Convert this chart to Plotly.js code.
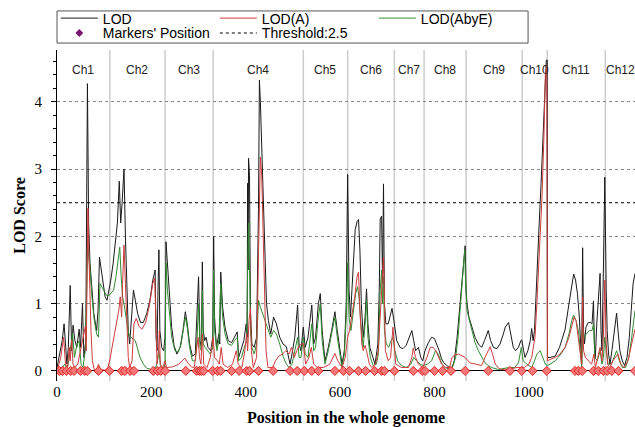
<!DOCTYPE html>
<html><head><meta charset="utf-8">
<script src="https://cdn.plot.ly/plotly-3.0.1.min.js"></script>
<style>html,body{margin:0;padding:0;background:#fff}#chart{width:635px;height:427px}</style>
</head><body><div id="chart"></div>
<script>
// ---- data ----
const lodPos = [0,6,11,15,18,21,24,28,31,34,38,42,47,50,54,57,61,63,64.5,65.5,67,70,74,78,84,87,90,94,98,102,106,110,114,119,124,128,132,135,138,142,145,148,151,154,157,162,166,171,177,183,190,197,203,208,210,212,214,216,218,222,226,229,231,234,238,243,248,254,261,267,272,276,281,287,293,297,300,303,306,308,310,313,316,320,326,330,332,334,338,343,345,347,351,356,363,370,376,382,385,390,396,401,403,404,405,406,408,410,413,418,423,427,429,431,433,436,440,444,448,453,459,465,472,479,486,490,494,498,504,510,513,517,522,526,532,540,544,548,554,558,562,568,575,582,589,594,600,604,609,613,616,619,622,627,632,636,639,642,645,649,653,656,659,663,668,674,680,683,685,688,690,692,694,697,702,707,710,714,720,727,733,740,746,752,756,760,766,771,775,780,787,794,800,805,810,815,820,826,832,837,842,848,852,858,862,865,867,869,873,878,886,893,900,906,911,914,919,925,932,939,946,950,957,962,967,972,978,983,985,989,992,998,1003,1006,1009,1012,1017,1022,1026,1030,1034,1037,1039,1039.5,1045,1056,1065,1072,1077,1084,1091,1095,1099,1103,1107,1110,1112,1114,1116,1118,1121,1126,1131,1134,1137,1139,1141,1144,1148,1151,1153,1155,1158,1161,1164,1166,1169,1172,1176,1180,1183,1186,1189,1193,1198,1203,1208,1213,1217,1221,1225];
const lodVal = [0.05,0.3,0.45,0.7,0.3,0.1,0.35,1.27,0.3,0.68,0.45,0.35,0.62,0.35,1.0,0.2,0.45,2.0,4.27,3.45,2.2,1.6,1.2,0.85,0.6,0.9,1.69,1.5,1.25,1.1,1.05,1.2,1.35,1.6,1.95,2.2,2.82,2.2,2.5,3.0,2.0,1.2,0.6,0.4,0.75,1.2,1.05,0.85,0.72,0.72,0.85,1.05,1.35,1.5,0.5,0.3,1.2,1.8,0.6,0.35,0.3,0.5,1.92,1.6,1.1,0.65,0.38,0.25,0.35,0.6,0.88,0.7,0.4,0.22,0.25,0.8,1.4,0.45,0.35,1.62,0.6,0.45,0.5,0.35,0.3,0.5,2.0,0.8,0.35,0.55,0.4,1.47,0.95,0.65,0.45,0.42,0.5,0.58,0.2,0.3,0.45,0.7,0.5,2.79,1.5,3.16,2.9,0.9,0.4,0.35,0.5,2.4,4.32,4.0,3.5,2.6,1.6,1.0,0.75,0.55,0.8,0.7,0.5,0.4,0.36,0.2,0.1,0.25,0.5,0.98,0.4,0.3,0.65,0.35,0.5,0.98,0.4,0.5,1.0,1.15,0.6,0.15,0.35,0.6,0.88,0.6,0.25,0.1,0.3,1.0,2.92,1.2,0.8,1.5,2.1,2.22,2.25,1.8,1.0,0.5,0.8,1.22,0.7,0.35,0.25,0.1,0.4,1.2,2.26,2.3,1.3,2.78,1.0,0.7,0.7,0.85,0.93,0.75,0.45,0.35,0.33,0.38,0.5,0.6,0.45,0.3,0.35,0.2,0.15,0.3,0.42,0.5,0.48,0.4,0.3,0.18,0.12,0.08,0.05,0.05,0.15,0.5,0.8,1.3,1.65,1.86,1.2,1.0,0.8,0.68,0.5,0.4,0.35,0.45,0.55,0.6,0.45,0.35,0.33,0.4,0.55,0.65,0.72,0.5,0.35,0.3,0.35,0.45,0.46,0.3,0.2,0.3,0.45,0.63,0.45,0.6,1.5,2.2,2.8,3.5,4.3,4.62,4.62,0.2,0.2,0.22,0.35,0.5,0.62,0.95,1.3,1.44,1.35,1.15,0.8,0.3,0.1,1.83,0.6,0.4,0.65,0.72,0.72,0.7,1.04,0.4,0.2,0.7,1.2,1.45,0.6,0.3,1.5,2.88,1.2,0.6,0.25,0.1,0.3,0.55,0.75,0.86,0.6,0.3,0.15,0.08,0.2,0.5,0.9,1.3,1.45];

const aPos = [0,8,14,18,22,26,28,31,34,38,44,50,56,60,62,64,65.5,67,69,72,75,79,84,88,92,102,108,113,118,123,128,131,134,137,139,142,145,148,151,154,159,163,168,174,180,188,196,203,207,209,212,215,217,219,224,229,232,245,258,265,271,277,285,291,296,299,302,305,308,311,318,325,331,334,340,344,348,352,362,372,380,384,392,398,402,404,407,410,412,416,423,427,429,431,434,437,440,443,447,457,463,470,478,485,492,497,503,508,514,522,527,534,539,544,552,565,578,585,589,595,604,611,616,620,625,631,636,639,642,646,649,653,656,662,667,675,681,686,690,692,694,696,702,707,712,715,718,730,745,752,755,760,766,775,784,791,797,803,809,815,824,832,837,844,851,858,865,875,886,900,907,914,918,923,929,936,943,960,975,990,1000,1006,1013,1017,1021,1025,1028,1032,1035,1038,1039.5,1045,1056,1066,1077,1085,1091,1096,1100,1105,1109,1112,1114,1116,1120,1127,1133,1138,1141,1146,1151,1155,1158,1161,1164,1167,1172,1178,1183,1189,1195,1202,1210,1217,1225];
const aVal = [0,0.2,0.5,0.1,0.05,0.35,0.15,0.46,0.1,0.05,0.1,0.3,0.5,0.66,0.3,2.1,2.42,1.9,1.2,0.6,0.15,0.02,0.02,0.1,0.02,0.01,0.05,0.2,0.4,0.6,0.82,0.9,1.1,0.8,1.3,1.87,1.3,0.6,0.2,0.05,0.15,0.7,0.78,0.66,0.62,0.72,0.98,1.3,1.38,0.9,0.1,0.3,0.6,0.1,0.05,0.15,0.05,0.06,0.1,0.15,0.19,0.12,0.06,0.05,0.3,0.5,0.2,0.1,0.55,0.1,0.05,0.2,0.5,0.2,0.15,0.1,0.35,0.1,0.05,0.1,0.3,0.1,0.05,0.3,0.55,0.3,0.75,0.93,0.3,0.05,0.2,1.5,2.5,3.18,2.9,2.0,1.0,0.3,0.05,0.05,0.15,0.22,0.25,0.3,0.25,0.35,0.2,0.3,0.38,0.41,0.1,0.2,0.35,0.1,0.05,0.05,0.1,0.2,0.26,0.15,0.05,0.2,0.5,0.6,0.8,1.1,1.4,1.47,0.9,0.4,0.3,0.38,0.3,0.1,0.05,0.1,0.3,1.0,1.6,1.69,1.0,0.3,0.15,0.2,0.65,0.3,0.1,0.05,0.05,0.2,0.34,0.2,0.1,0.05,0.2,0.35,0.35,0.3,0.2,0.1,0.05,0.05,0.2,0.24,0.25,0.22,0.2,0.12,0.1,0.08,0.2,0.3,0.36,0.25,0.1,0.04,0.02,0.03,0.05,0.05,0.1,0.2,0.5,1.0,1.6,2.2,2.6,3.5,4.4,4.55,0.15,0.17,0.2,0.25,0.35,0.5,0.65,0.8,0.75,0.5,0.25,0.1,1.1,0.3,0.2,0.15,0.1,0.25,0.05,0.2,0.35,0.15,0.5,1.35,0.4,0.1,0.05,0.15,0.2,0.25,0.1,0.05,0.15,0.35,0.62];

const aePos = [0,10,16,22,28,33,37,42,47,51,55,60,63,65,67,70,74,79,84,88,91,95,100,105,110,114,120,125,129,133,136,139,143,147,152,157,161,166,170,176,183,190,200,209,213,216,219,225,229,231,234,238,243,250,257,263,268,272,276,281,287,293,297,300,303,306,308,310,314,319,325,330,332,334,339,343,347,351,356,363,370,376,382,385,391,397,402,404,406,408,410,413,418,423,427,431,436,442,448,453,459,465,472,479,486,492,498,504,510,513,517,522,526,532,540,544,548,554,558,562,568,575,582,589,594,600,604,609,613,616,619,623,628,633,637,640,644,649,653,656,659,664,670,677,681,685,688,690,692,694,698,703,708,712,716,722,730,740,750,756,762,770,776,785,794,802,808,815,822,830,838,845,850,855,860,864,866,869,873,879,886,893,900,907,914,921,936,957,970,978,984,988,996,1006,1012,1017,1024,1030,1035,1039,1045,1056,1068,1077,1085,1091,1095,1100,1105,1109,1112,1114,1117,1122,1128,1134,1137,1140,1145,1151,1155,1158,1161,1164,1168,1175,1181,1186,1192,1198,1205,1212,1218,1225];
const aeVal = [0,0.03,0.1,0.03,0.3,0.56,0.2,0.38,0.45,0.1,0.05,0.3,1.2,1.9,1.7,1.5,1.1,0.75,0.55,0.5,1.3,1.25,1.18,1.12,1.12,1.15,1.2,1.4,1.6,1.84,1.4,1.1,0.95,0.75,0.55,0.5,0.48,0.45,0.35,0.2,0.1,0.04,0.02,0.05,0.15,0.3,0.08,0.03,0.1,1.6,1.2,0.85,0.5,0.3,0.28,0.4,0.6,0.8,0.65,0.35,0.15,0.15,0.5,1.0,0.35,0.3,1.2,0.4,0.35,0.3,0.25,0.35,1.5,0.6,0.3,0.45,1.3,0.8,0.55,0.4,0.38,0.45,0.5,0.15,0.2,0.35,0.45,1.5,2.2,1.6,0.6,0.35,0.25,0.4,1.05,0.95,0.85,0.7,0.6,0.5,0.6,0.55,0.4,0.22,0.1,0.05,0.1,0.3,0.5,0.2,0.2,0.5,0.25,0.2,0.7,0.3,0.35,0.8,1.0,0.45,0.1,0.3,0.55,0.8,0.5,0.2,0.05,0.25,0.8,1.6,0.8,0.6,0.9,1.15,1.25,1.1,0.7,0.35,0.7,1.05,0.5,0.2,0.08,0.1,0.25,1.2,1.5,1.0,1.4,0.6,0.4,0.35,0.45,0.5,0.3,0.15,0.08,0.05,0.1,0.2,0.15,0.1,0.08,0.1,0.15,0.3,0.25,0.12,0.05,0.03,0.05,0.2,0.5,1.0,1.5,1.8,1.3,0.9,0.78,0.6,0.42,0.3,0.2,0.12,0.08,0.05,0.02,0.05,0.05,0.12,0.35,0.15,0.1,0.05,0.15,0.25,0.3,0.2,0.1,0.08,0.1,0.15,0.25,0.35,0.55,0.75,0.83,0.75,0.6,0.3,0.05,0.6,0.5,0.55,0.6,0.6,0.7,0.2,0.15,0.3,0.1,0.2,0.5,0.3,0.1,0.1,0.2,0.3,0.15,0.05,0.05,0.2,0.5,0.9];

const markerPos = [5,12,20,29,36,50,59,64,88,111,137,144,155,163,204,213,220,229,273,296,302,306,311,330,340,347,370,386,402,408,427,458,494,509,524,540,554,589,607,620,639,654,673,688,694,715,755,774,780,800,817,835,865,914,960,985,1008,1038,1098,1105,1113,1137,1147,1158,1166,1176,1190,1225];

const chromNames = ['Ch1','Ch2','Ch3','Ch4','Ch5','Ch6','Ch7','Ch8','Ch9','Ch10','Ch11','Ch12'];
const chromBounds = [0,112,229,331,522,616,715,778,867,986,1039,1162,1225];
const threshold = 2.5;
const xTicks = [0,200,400,600,800,1000,1200];

// ---- styles ----
const sans = '"Liberation Sans", Arial, sans-serif';
const serif = '"Liberation Serif", "Times New Roman", serif';
const cBlack = '#1a1a1a', cRed = 'rgb(205,60,60)', cGreen = 'rgb(50,140,50)';

const traces = [
  {x: lodPos, y: lodVal, name: 'LOD', type: 'scatter', mode: 'lines',
   line: {color: cBlack, width: 1}, legend: 'legend', legendrank: 1, hoverinfo: 'skip'},
  {x: aePos, y: aeVal, name: 'LOD(AbyE)', type: 'scatter', mode: 'lines',
   line: {color: cGreen, width: 1}, legend: 'legend', legendrank: 3, hoverinfo: 'skip'},
  {x: aPos, y: aVal, name: 'LOD(A)', type: 'scatter', mode: 'lines',
   line: {color: cRed, width: 1}, legend: 'legend', legendrank: 2, hoverinfo: 'skip'},
  {x: markerPos, y: markerPos.map(() => 0), name: "Markers' Position", type: 'scatter', mode: 'markers',
   marker: {symbol: 'diamond', size: 7, color: 'rgb(245,120,120)', line: {color: 'rgb(225,40,40)', width: 1}},
   showlegend: false, hoverinfo: 'skip'},
  {x: [null], y: [null], name: "Markers' Position", type: 'scatter', mode: 'markers',
   marker: {symbol: 'diamond', size: 6, color: 'rgb(120,20,110)'}, legend: 'legend2', legendrank: 1},
  {x: [chromBounds[0], chromBounds[chromBounds.length - 1]], y: [threshold, threshold], name: 'Threshold:' + threshold,
   type: 'scatter', mode: 'lines', line: {color: '#000', width: 1, dash: 'dot'}, legend: 'legend2', legendrank: 2, hoverinfo: 'skip'}
];

const shapes = chromBounds.slice(1, -1).map(b => ({
  type: 'line', xref: 'x', yref: 'paper', x0: b, x1: b, y0: 0, y1: 1,
  line: {color: 'rgb(205,205,205)', width: 1.5}, layer: 'below'
}));
shapes.push({type: 'rect', xref: 'paper', yref: 'paper', x0: 0, x1: 0.815, y0: 1.021, y1: 1.118,
  line: {color: '#555', width: 1}, fillcolor: 'rgba(0,0,0,0)'});

const annotations = chromNames.map((n, i) => ({
  x: (chromBounds[i] + chromBounds[i + 1]) / 2, xref: 'x', y: 0.968, yref: 'paper',
  text: n, showarrow: false, font: {family: sans, size: 12, color: '#222'}
}));

const legendBase = {orientation: 'h', xanchor: 'left', yanchor: 'top', x: -0.002,
  entrywidth: 107, bgcolor: 'rgba(0,0,0,0)', borderwidth: 0, itemwidth: 37,
  font: {family: sans, size: 14, color: '#000'}};

const layout = {
  width: 635, height: 427,
  margin: {l: 57, r: 0, t: 50, b: 46, pad: 0},
  paper_bgcolor: '#fff', plot_bgcolor: '#fff',
  showlegend: true,
  legend: Object.assign({}, legendBase, {y: 1.1435}),
  legend2: Object.assign({}, legendBase, {y: 1.0985}),
  xaxis: {range: [chromBounds[0], chromBounds[chromBounds.length - 1]], showgrid: false, zeroline: false, showline: false,
    ticks: '', tickmode: 'array', tickvals: xTicks, ticktext: xTicks.map(String),
    tickfont: {family: serif, size: 15, color: '#000'},
    title: {text: 'Position in the whole genome', font: {family: serif, size: 16, color: '#000', weight: 'bold'}}},
  yaxis: {range: [-0.15, 4.77], tick0: 0, dtick: 1, ticks: 'outside', ticklen: 5, tickcolor: '#000',
    ticklabelstandoff: 6,
    showline: true, linecolor: '#000', linewidth: 1,
    showgrid: true, gridcolor: '#888', griddash: 'dot', gridwidth: 1,
    zeroline: true, zerolinecolor: '#000', zerolinewidth: 1,
    minor: {dtick: 0.2, tick0: 0, ticks: 'outside', ticklen: 3, tickcolor: '#000', showgrid: false},
    tickfont: {family: serif, size: 15, color: '#000'},
    title: {text: 'LOD Score', font: {family: serif, size: 16, color: '#000', weight: 'bold'}, standoff: 4}},
  shapes: shapes,
  annotations: annotations
};

Plotly.newPlot('chart', traces, layout, {staticPlot: true, displayModeBar: false});
</script>
</body></html>
